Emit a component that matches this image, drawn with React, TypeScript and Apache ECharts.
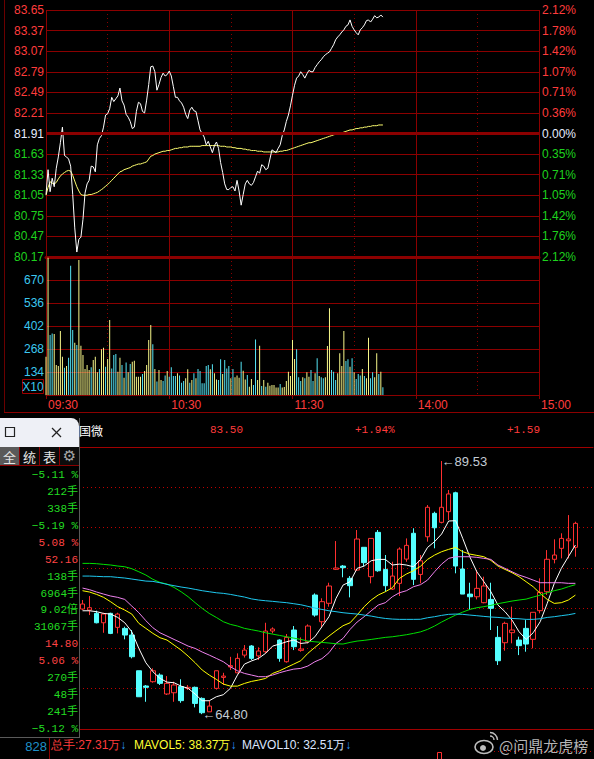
import React, { useEffect, useRef } from 'react';
import * as echarts from 'echarts';

// ---------- Intraday (top) ----------
const priceTicks = ['80.17','80.47','80.75','81.05','81.33','81.63','81.91','82.21','82.49','82.79','83.07','83.37','83.65'];
const pctTicks = ['2.12%','1.76%','1.42%','1.05%','0.71%','0.35%','0.00%','0.36%','0.71%','1.07%','1.42%','1.78%','2.12%'];
const priceMin = 80.17;
const priceMax = 83.65;
const prevClose = 81.91;
const timeTicks = ['09:30','10:30','11:30','14:00','15:00'];
const halfHourTicks = ['10:00','11:00','13:30','14:30'];
const volTicks = [134, 268, 402, 536, 670];
const volMax = 804;

const minutePrice = [
  81.05, 81.40, 81.09, 81.28, 81.16, 81.42, 81.58, 81.78, 82.00, 81.60,
  81.58, 81.55, 81.45, 81.05, 80.58, 80.24, 80.42, 80.45, 80.70, 81.07,
  81.20, 81.25, 81.45, 81.44, 81.37, 81.75, 81.84, 81.88, 82.00, 82.17,
  82.19, 82.26, 82.42, 82.36, 82.40, 82.44, 82.55, 82.37, 82.31, 82.18,
  82.14, 82.08, 81.98, 82.00, 82.22, 82.35, 82.33, 82.22, 82.20, 82.38,
  82.60, 82.85, 82.86, 82.78, 82.52, 82.60, 82.70, 82.76, 82.72, 82.74,
  82.79, 82.72, 82.57, 82.42, 82.42, 82.37, 82.34, 82.28, 82.18, 82.12,
  82.24, 82.28, 82.23, 82.22, 82.09, 81.96, 81.91, 81.86, 81.75, 81.80,
  81.72, 81.64, 81.74, 81.79, 81.70, 81.50, 81.36, 81.20, 81.12, 81.12,
  81.15, 81.16, 81.10, 81.25, 81.10,
  80.90, 81.05, 81.20, 81.25, 81.20, 81.18, 81.22, 81.30, 81.38, 81.35,
  81.47, 81.45, 81.40, 81.42, 81.55, 81.68, 81.66, 81.64, 81.70, 81.75,
  81.88, 81.96, 82.08, 82.17, 82.30, 82.45, 82.59, 82.69, 82.72, 82.78,
  82.74, 82.69, 82.75, 82.80, 82.78, 82.78, 82.84, 82.88, 82.92, 82.95,
  82.99, 83.02, 83.04, 83.06, 83.11, 83.16, 83.23, 83.27, 83.30, 83.34,
  83.37, 83.42, 83.44, 83.51, 83.42, 83.37, 83.33, 83.30, 83.37, 83.40,
  83.44, 83.50, 83.51, 83.48, 83.52, 83.57, 83.54, 83.55, 83.58, 83.55
];

const minuteAvg = [
  81.04, 81.15, 81.23, 81.21, 81.20, 81.22, 81.27, 81.31, 81.34, 81.36,
  81.38, 81.39, 81.38, 81.32, 81.24, 81.16, 81.10, 81.05, 81.04, 81.04,
  81.04, 81.05, 81.05, 81.06, 81.07, 81.08, 81.10, 81.12, 81.14, 81.17,
  81.19, 81.22, 81.25, 81.28, 81.31, 81.34, 81.37, 81.38, 81.40, 81.41,
  81.42, 81.43, 81.45, 81.46, 81.47, 81.48, 81.48, 81.49, 81.50, 81.51,
  81.55, 81.59, 81.60, 81.62, 81.63, 81.64, 81.65, 81.66, 81.66, 81.67,
  81.67, 81.68, 81.69, 81.70, 81.70, 81.71, 81.71, 81.72, 81.72, 81.72,
  81.73, 81.73, 81.73, 81.73, 81.73, 81.73, 81.74, 81.74, 81.74, 81.74,
  81.74, 81.74, 81.74, 81.74, 81.74, 81.73, 81.73, 81.73, 81.72, 81.72,
  81.72, 81.71, 81.71, 81.70, 81.70,
  81.70, 81.69, 81.69, 81.68, 81.68, 81.67, 81.67, 81.67, 81.66, 81.66,
  81.66, 81.65, 81.65, 81.65, 81.65, 81.65, 81.65, 81.65, 81.65, 81.66,
  81.66, 81.67, 81.67, 81.68, 81.69, 81.70, 81.71, 81.72, 81.73, 81.74,
  81.75, 81.76, 81.77, 81.78, 81.78, 81.79, 81.80, 81.81, 81.82, 81.83,
  81.84, 81.85, 81.86, 81.87, 81.88, 81.89, 81.90, 81.91, 81.92, 81.92,
  81.93, 81.94, 81.95, 81.96, 81.96, 81.97, 81.98, 81.98, 81.99, 81.99,
  82.00, 82.00, 82.01, 82.01, 82.02, 82.02, 82.02, 82.03, 82.03, 82.03
];

const minuteVol = [
  223, 800, 350, 359, 355, 175, 169, 373, 223, 159, 169,
  217, 753, 379, 305, 291, 786, 287, 233, 151, 175,
  146, 161, 204, 223, 132, 151, 266, 276, 165, 210,
  437, 155, 233, 239, 136, 217, 175, 101, 190, 132,
  181, 194, 200, 107, 107, 107, 122, 140, 175, 320,
  408, 295, 151, 78, 146, 87, 81, 113, 140, 107,
  161, 111, 111, 126, 113, 72, 81, 97, 150, 72,
  87, 126, 97, 151, 140, 68, 68, 169, 175, 150,
  179, 126, 91, 87, 208, 122, 204, 155, 169, 97,
  151, 103, 113, 101, 194, 142, 91, 117, 48, 93,
  58, 324, 87, 287, 52, 87, 48, 72, 54, 58,
  58, 43, 43, 64, 43, 47, 81, 136, 111,
  320, 210, 266, 103, 81, 103, 97, 132, 107, 146,
  81, 126, 214, 111, 103, 97, 103, 285, 505, 146,
  136, 87, 126, 243, 169, 373, 198, 208, 165, 214,
  132, 93, 122, 113, 151, 111, 97, 334, 97, 132,
  103, 243, 122, 136, 45
];
// Y = up tick (yellow), C = down tick (cyan)
const minuteVolDir = (
  'YYCCYYYYYCY' +
  'CCCYCYYYYY' + 'YCYYYCYYCY' + 'YCCCYYCYCY' + 'CYYYYYCYYY' + 'YCYCYYCCYC' +
  'CCCYCCCYYC' + 'YCYCCCCCCY' + 'CYYCCYCCCY' + 'CYYYCYYCYY' + 'CCYYCYCYYY' +
  'YYYCYYYYY' +
  'YYCCCYCYYC' + 'CYCYCCYYYC' + 'CCYYYYCCYC' + 'YCCCYCYYCC' + 'YYCYC'
).split('');

// ---------- Daily K line (bottom) ----------
const kOpen = [75.07, 74.97, 74.65, 73.73, 74.65, 73.28, 73.18, 72.53, 69.04, 67.55, 67.97, 68.62, 66.77, 66.89, 67.49, 67.33, 67.42, 66.34, 65.03, 67.32, 68.39, 69.41, 68.84, 70.57, 71.46, 70.49, 70.90, 72.92, 72.04, 69.92, 73.02, 71.03, 71.88, 76.44, 73.83, 75.63, 78.95, 79.27, 78.07, 78.88, 81.10, 78.23, 82.56, 78.94, 77.02, 77.58, 79.95, 82.47, 78.45, 82.13, 84.42, 83.54, 84.58, 86.43, 78.98, 76.53, 76.27, 75.69, 76.01, 72.30, 71.78, 72.76, 72.04, 73.18, 72.11, 74.91, 76.76, 79.93, 81.00, 81.74, 81.10];
const kClose = [75.56, 75.20, 73.73, 74.58, 72.69, 74.58, 72.53, 70.41, 66.50, 67.42, 69.04, 67.81, 67.81, 67.65, 66.12, 67.42, 65.85, 64.94, 65.59, 69.04, 68.52, 69.54, 70.25, 71.06, 70.25, 70.97, 72.92, 73.12, 70.25, 72.30, 71.39, 71.16, 73.41, 74.48, 75.79, 77.32, 79.08, 79.11, 77.35, 81.91, 79.60, 81.97, 78.81, 77.35, 78.29, 80.93, 81.29, 77.97, 79.78, 85.01, 83.01, 85.01, 86.31, 79.27, 76.53, 76.27, 77.09, 77.32, 75.14, 70.02, 73.67, 73.02, 71.49, 71.65, 74.75, 76.70, 79.93, 80.35, 81.97, 81.91, 83.44];
const kLow = [74.97, 74.48, 73.67, 72.75, 72.62, 72.69, 72.11, 70.25, 66.50, 66.01, 67.87, 67.65, 66.67, 66.01, 65.91, 67.16, 65.46, 64.80, 65.03, 67.20, 67.65, 69.12, 68.79, 70.33, 70.09, 70.09, 70.74, 72.69, 69.92, 69.83, 71.06, 70.90, 71.72, 74.32, 73.28, 75.30, 78.88, 78.17, 76.21, 78.81, 79.27, 77.58, 78.71, 76.76, 76.93, 76.34, 79.69, 77.41, 77.58, 81.65, 81.00, 83.44, 83.77, 78.56, 76.53, 74.97, 76.01, 75.63, 73.02, 69.60, 71.00, 71.72, 70.57, 70.90, 71.23, 74.65, 76.44, 79.53, 80.02, 80.02, 80.18];
const kHigh = [75.95, 76.34, 74.91, 74.71, 74.71, 74.71, 73.35, 73.02, 69.04, 67.65, 69.28, 68.79, 68.52, 67.97, 68.21, 67.65, 67.49, 66.44, 66.11, 69.04, 68.84, 70.40, 70.74, 71.55, 71.55, 71.33, 73.73, 73.28, 72.11, 72.63, 73.41, 72.30, 73.57, 76.60, 76.12, 77.64, 81.71, 79.37, 78.29, 82.79, 81.10, 81.97, 82.79, 80.35, 79.69, 81.10, 81.97, 82.96, 80.35, 85.23, 84.58, 89.53, 86.70, 86.53, 80.83, 77.64, 78.88, 78.23, 77.64, 73.41, 73.83, 75.30, 72.37, 73.99, 74.75, 78.07, 80.83, 81.88, 82.47, 84.25, 83.60];

const ma5 = [74.90, 74.90, 74.81, 74.64, 74.58, 74.25, 73.73, 72.85, 71.22, 69.82, 68.94, 68.29, 67.93, 67.87, 67.54, 67.32, 66.76, 66.11, 66.11, 66.50, 66.70, 67.32, 68.62, 69.69, 70.00,
  70.25, 70.74, 71.45, 71.65, 71.88, 72.04, 71.71, 71.78, 72.36, 73.34, 74.32, 76.11, 77.41, 77.74, 79.04, 79.27, 79.79, 79.92, 79.92, 79.37, 79.46, 79.37, 79.20, 79.90,
  81.09, 81.65, 82.40, 83.67, 83.70, 81.97, 80.18, 78.71, 77.74, 76.76, 75.46, 74.81, 73.99, 72.85, 72.10, 72.75, 73.83, 75.62, 77.57, 79.04, 80.18, 81.32];
const ma10 = [76.86, 76.73, 76.50, 76.21, 75.78, 75.30, 74.97, 74.58, 73.67, 73.18, 72.69, 72.27, 72.04, 71.55, 71.06, 70.47, 69.82, 69.11, 68.62, 68.20, 67.74, 67.54, 67.54, 67.80, 68.00,
  68.13, 68.29, 68.78, 69.04, 69.37, 69.69, 70.02, 70.74, 71.32, 71.88, 72.43, 72.95, 73.44, 73.73, 74.48, 75.30, 75.95, 76.44, 76.76, 77.15, 78.06, 78.49, 78.81, 79.25,
  79.92, 80.34, 80.67, 80.90, 81.09, 80.67, 80.44, 80.31, 80.18, 79.82, 79.27, 78.94, 78.62, 78.23, 77.74, 77.25, 76.60, 76.01, 75.62, 75.69, 75.95, 76.43];
const ma20 = [77.12, 76.96, 76.73, 76.53, 76.34, 76.21, 76.01, 75.36, 74.71, 73.93, 73.24, 72.75, 72.43, 72.10, 71.78, 71.45, 71.22, 70.87, 70.57, 70.25, 69.92, 69.43, 69.04, 68.78, 68.62,
  68.46, 68.46, 68.62, 68.85, 69.04, 69.20, 69.27, 69.50, 69.92, 70.22, 70.80, 71.71, 72.20, 73.08, 73.80, 74.32, 74.90, 75.46, 75.69, 76.27, 76.66, 76.86, 77.25, 77.45,
  77.90, 78.71, 79.46, 80.02, 80.18, 80.18, 80.18, 80.12, 80.02, 79.92, 79.37, 79.04, 78.71, 78.39, 78.16, 77.90, 77.64, 77.64, 77.64, 77.64, 77.58, 77.58];
const ma60 = [79.53, 79.53, 79.50, 79.43, 79.37, 79.27, 79.20, 79.01, 78.71, 78.39, 77.97, 77.67, 77.51, 77.18, 76.76, 76.27, 75.69, 75.13, 74.64, 74.25, 73.83, 73.57, 73.41, 73.18, 73.05,
  72.92, 72.75, 72.62, 72.49, 72.36, 72.23, 72.10, 71.94, 71.87, 71.81, 71.75, 71.68, 71.65, 71.81, 71.94, 72.01, 72.10, 72.20, 72.30, 72.36, 72.46, 72.56, 72.69, 72.84,
  73.08, 73.41, 73.80, 74.15, 74.48, 74.77, 75.03, 75.20, 75.30, 75.43, 75.59, 75.72, 75.85, 75.95, 76.04, 76.24, 76.43, 76.66, 76.86, 77.02, 77.25, 77.45];
const ma120 = [78.29, 78.29, 78.26, 78.23, 78.23, 78.16, 78.10, 78.00, 77.90, 77.80, 77.77, 77.64, 77.48, 77.35, 77.22, 77.12, 76.99, 76.86, 76.76, 76.66, 76.60, 76.50, 76.37, 76.24, 76.06,
  75.95, 75.88, 75.82, 75.75, 75.69, 75.59, 75.49, 75.33, 75.17, 75.03, 74.90, 74.81, 74.71, 74.64, 74.58, 74.48, 74.38, 74.25, 74.15, 74.09, 74.06, 74.06, 74.06, 74.07,
  74.22, 74.32, 74.45, 74.55, 74.58, 74.55, 74.48, 74.42, 74.35, 74.29, 74.25, 74.19, 74.15, 74.12, 74.06, 74.06, 74.12, 74.25, 74.32, 74.42, 74.51, 74.64];
const kSlots = 73;
const kMin = 63.35;
const kMax = 90.90;

// ---------- Side panel / header texts ----------
const panelTexts = ['−5.11 %', '212手', '338手', '−5.19 %', '5.08 %', '52.16', '138手', '6964手', '9.02倍', '31067手', '14.80', '5.06 %', '270手', '48手', '241手', '−5.12 %'];
const panelUp = [0, 0, 0, 0, 1, 1, 0, 0, 0, 0, 1, 1, 0, 0, 0, 0];
const headerName = '国微';
const headerPrice = '83.50';
const headerPct = '+1.94%';
const headerChg = '+1.59';
const statusTotal = '总手:27.31万';
const statusMa5 = 'MAVOL5: 38.37万';
const statusMa10 = 'MAVOL10: 32.51万';

const GRID = '#8b0000';
const RED = '#ff3c3c';
const GREEN = '#1ed21e';
const SANS = "'Liberation Sans', Arial, sans-serif";
const MONO = "'Liberation Mono', 'Noto Sans CJK SC', monospace";
const CJK = "'Noto Sans CJK SC', sans-serif";

function buildMinutes(): string[] {
  const out: string[] = [];
  for (let i = 0; i <= 240; i++) {
    const t = i <= 120 ? 9 * 60 + 30 + i : 13 * 60 + (i - 120);
    const h = Math.floor(t / 60);
    const m = t % 60;
    out.push(String(h).padStart(2, '0') + ':' + String(m).padStart(2, '0'));
  }
  return out;
}

function txt(text: string, x: number, y: number, fill: string, font: string, align = 'left', extra: any = {}) {
  return {
    type: 'text', x, y, z: 100,
    style: { text, fill, font, textAlign: align, textVerticalAlign: 'middle', verticalAlign: 'middle', ...extra },
  };
}
function ln(x1: number, y1: number, x2: number, y2: number, stroke: string, lineWidth = 1, lineDash?: number[]) {
  return { type: 'line', z: 90, shape: { x1, y1, x2, y2 }, style: { stroke, lineWidth, lineDash } };
}
function statusText(label: string, x: number, color: string) {
  return {
    type: 'text', x, y: 745, z: 100,
    style: {
      text: `{t|${label}}{a|↓}`, textVerticalAlign: 'middle', verticalAlign: 'middle',
      rich: { t: { fill: color, font: `12px ${SANS}` }, a: { fill: '#2f9bff', font: `12px ${SANS}` } },
    },
  };
}

export default function App() {
  const ref = useRef<HTMLDivElement>(null);
  useEffect(() => {
    document.body.style.margin = '0';
    document.body.style.background = '#000';
    const chart = echarts.init(ref.current as HTMLDivElement, null, { renderer: 'svg' });
    const minutes = buildMinutes();
    const days = Array.from({ length: kSlots }, (_, i) => 'D' + (i + 1));
    const candles = kOpen.map((o, i) => [o, kClose[i], kLow[i], kHigh[i]]);
    let hiIdx = 0, loIdx = 0;
    kHigh.forEach((v, i) => { if (v > kHigh[hiIdx]) hiIdx = i; });
    kLow.forEach((v, i) => { if (v < kLow[loIdx]) loIdx = i; });

    const priceColor = (v: any) => {
      const n = Number(v);
      return n > 6 ? RED : n === 6 ? '#e6eeff' : GREEN;
    };

    const graphic: any[] = [
      ln(4.5, 0, 4.5, 413, '#6a0000'),
      ln(4, 412.5, 594, 412.5, GRID),
      // X10 box
      { type: 'rect', z: 90, shape: { x: 22.5, y: 379.5, width: 21, height: 14 }, style: { fill: 'none', stroke: '#a00000', lineWidth: 1 } },
      txt('X10', 33, 387, '#3cc8f0', `12px ${SANS}`, 'center'),
      // header row
      txt(headerName, 103, 430, '#ffffff', `12px ${CJK}`, 'right'),
      txt(headerPrice, 210, 430, RED, `11px ${MONO}`),
      txt(headerPct, 355, 430, RED, `11px ${MONO}`),
      txt(headerChg, 507, 430, RED, `11px ${MONO}`),
      // popup window
      { type: 'rect', z: 95, shape: { x: 0, y: 418, width: 79, height: 29, r: [0, 8, 0, 0] }, style: { fill: '#eef0f6' } },
      { type: 'rect', z: 96, shape: { x: 5.5, y: 427.5, width: 9, height: 9 }, style: { fill: 'none', stroke: '#222', lineWidth: 1.2 } },
      { ...ln(52, 428, 61, 437, '#222', 1.2), z: 96 },
      { ...ln(61, 428, 52, 437, '#222', 1.2), z: 96 },
      { type: 'rect', z: 95, shape: { x: 0, y: 447, width: 79, height: 18 }, style: { fill: '#0c0c0c' } },
      { type: 'rect', z: 95, shape: { x: 0, y: 447, width: 19, height: 18 }, style: { fill: '#5a5a5a' } },
      { ...ln(19.5, 447, 19.5, 465, GRID), z: 96 },
      { ...ln(39.5, 447, 39.5, 465, GRID), z: 96 },
      { ...ln(59.5, 447, 59.5, 465, GRID), z: 96 },
      { ...ln(0, 465.5, 79, 465.5, GRID), z: 96 },
      txt('全', 9.5, 456, '#e6e6e6', `13px ${CJK}`, 'center'),
      txt('统', 29.5, 456, '#e6e6e6', `13px ${CJK}`, 'center'),
      txt('表', 49.5, 456, '#e6e6e6', `13px ${CJK}`, 'center'),
      txt('⚙', 69.5, 456, '#a8a8a8', `15px 'DejaVu Sans', sans-serif`, 'center'),
      { ...ln(79.5, 418, 79.5, 738, '#5a5a5a'), z: 96 },
      { ...ln(0, 737.5, 79.5, 737.5, '#5a5a5a'), z: 96 },
      // bottom status row
      txt('828', 47, 746, '#1e90c8', `13px ${SANS}`, 'right'),
      ln(49.5, 738, 49.5, 759, GRID),
      statusText(statusTotal, 51, RED),
      statusText(statusMa5, 134, '#ffff33'),
      statusText(statusMa10, 242, '#dde6ff'),
      // fragments of the next panel
      ln(490, 751.5, 594, 751.5, '#b00000', 1, [1, 3]),
      { type: 'rect', z: 90, shape: { x: 437.5, y: 752.5, width: 4, height: 7 }, style: { fill: 'none', stroke: '#ff3030', lineWidth: 1 } },
      // watermark
      { type: 'ellipse', z: 100, shape: { cx: 484, cy: 747, rx: 9, ry: 6.5 }, style: { fill: 'none', stroke: '#bdbdbd', lineWidth: 1.6 } },
      { type: 'circle', z: 100, shape: { cx: 483, cy: 748, r: 3 }, style: { fill: '#bdbdbd' } },
      { type: 'arc', z: 100, shape: { cx: 490, cy: 740, r: 4, startAngle: -Math.PI / 2, endAngle: 0 }, style: { fill: 'none', stroke: '#bdbdbd', lineWidth: 1.4 } },
      { type: 'arc', z: 100, shape: { cx: 490, cy: 740, r: 7.5, startAngle: -Math.PI / 2, endAngle: 0 }, style: { fill: 'none', stroke: '#bdbdbd', lineWidth: 1.4 } },
      txt('@问鼎龙虎榜', 499, 745, 'rgba(205,205,205,0.9)', `15px ${CJK}`),
    ];
    panelTexts.forEach((t, i) => {
      graphic.push({ ...txt(t, 78, 475 + i * 16.93, panelUp[i] ? '#ff4444' : '#22dd22', `11px ${MONO}`, 'right'), z: 101 });
    });

    const hiddenCat = { axisLine: { show: false }, axisTick: { show: false }, axisLabel: { show: false } };

    const option: any = {
      animation: false,
      backgroundColor: '#000',
      grid: [
        { left: 46, top: 10, width: 493, height: 247 },
        { left: 46, top: 257, width: 493, height: 138 },
        { left: 79, top: 447, width: 514, height: 282 },
      ],
      xAxis: [
        {
          type: 'category', gridIndex: 0, data: minutes, boundaryGap: false,
          axisLine: { show: true, lineStyle: { color: GRID, width: 3 } }, axisTick: { show: false }, axisLabel: { show: false },
          splitLine: { show: true, interval: (i: number, v: string) => timeTicks.includes(v), lineStyle: { color: GRID, width: 1 } },
        },
        {
          type: 'category', gridIndex: 0, data: minutes, boundaryGap: false, ...hiddenCat,
          splitLine: { show: true, interval: (i: number, v: string) => halfHourTicks.includes(v), lineStyle: { color: GRID, width: 1, type: [1, 3] } },
        },
        {
          type: 'category', gridIndex: 1, data: minutes, boundaryGap: false,
          axisLine: { show: true, lineStyle: { color: GRID } },
          axisTick: { show: true, length: 4, interval: (i: number, v: string) => timeTicks.includes(v), lineStyle: { color: GRID } },
          axisLabel: {
            show: true, interval: (i: number, v: string) => timeTicks.includes(v), color: RED, fontSize: 12,
            fontFamily: SANS, align: 'left', margin: 4, padding: [0, 0, 0, 2],
          },
          splitLine: { show: true, interval: (i: number, v: string) => timeTicks.includes(v), lineStyle: { color: GRID, width: 1 } },
        },
        {
          type: 'category', gridIndex: 1, data: minutes, boundaryGap: false, ...hiddenCat,
          splitLine: { show: true, interval: (i: number, v: string) => halfHourTicks.includes(v), lineStyle: { color: GRID, width: 1, type: [1, 3] } },
        },
        {
          type: 'category', gridIndex: 2, data: days, boundaryGap: true,
          axisLine: { show: true, lineStyle: { color: '#a00000' } }, axisTick: { show: false }, axisLabel: { show: false }, splitLine: { show: false },
        },
        {
          type: 'category', gridIndex: 2, data: days, boundaryGap: true, position: 'top',
          axisLine: { show: true, lineStyle: { color: '#a00000' } }, axisTick: { show: false }, axisLabel: { show: false }, splitLine: { show: false },
        },
      ],
      yAxis: [
        { type: 'value', gridIndex: 0, min: priceMin, max: priceMax, show: false },
        {
          type: 'value', gridIndex: 0, min: 0, max: 12, interval: 1, position: 'left',
          axisLine: { show: false }, axisTick: { show: false },
          axisLabel: { formatter: (v: number) => priceTicks[v] ?? '', color: priceColor, fontSize: 12, fontFamily: SANS, margin: 2 },
          splitLine: { show: true, lineStyle: { color: GRID, width: 1 } },
        },
        {
          type: 'value', gridIndex: 0, min: 0, max: 12, interval: 1, position: 'right',
          axisLine: { show: false }, axisTick: { show: false },
          axisLabel: { formatter: (v: number) => pctTicks[v] ?? '', color: priceColor, fontSize: 12, fontFamily: SANS, margin: 3 },
          splitLine: { show: false },
        },
        {
          type: 'value', gridIndex: 1, min: 0, max: volMax, interval: 134, position: 'left',
          axisLine: { show: false }, axisTick: { show: false },
          axisLabel: { formatter: (v: number) => (volTicks.includes(v) ? String(v) : ''), color: '#3cc8f0', fontSize: 12, fontFamily: SANS, margin: 2 },
          splitLine: { show: true, lineStyle: { color: GRID, width: 1 } },
        },
        { type: 'value', gridIndex: 2, min: kMin, max: kMax, show: false },
        {
          type: 'value', gridIndex: 2, min: 0, max: 7, interval: 1, position: 'right',
          axisLine: { show: false }, axisTick: { show: false }, axisLabel: { show: false },
          splitLine: { show: true, lineStyle: { color: '#c00000', width: 1, type: [1, 3] } },
        },
      ],
      series: [
        {
          type: 'line', name: '均价', xAxisIndex: 0, yAxisIndex: 0, data: minuteAvg, symbol: 'none',
          lineStyle: { color: '#ffff70', width: 1 }, z: 3,
          markLine: {
            silent: true, symbol: ['none', 'none'], label: { show: false },
            lineStyle: { color: GRID, width: 3, type: 'solid' }, data: [{ yAxis: prevClose }],
          },
        },
        {
          type: 'line', name: '价格', xAxisIndex: 0, yAxisIndex: 0, data: minutePrice, symbol: 'none',
          lineStyle: { color: '#ffffff', width: 1 }, z: 4,
        },
        {
          type: 'bar', name: '成交量', xAxisIndex: 2, yAxisIndex: 3, barWidth: 1,
          data: minuteVol.map((v, i) => ({ value: v, itemStyle: { color: minuteVolDir[i] === 'Y' ? '#f7f78a' : '#55e5f5' } })),
        },
        {
          type: 'candlestick', name: 'K', xAxisIndex: 4, yAxisIndex: 4, data: candles, barWidth: 5, z: 5,
          itemStyle: { color: '#000', color0: '#55ffff', borderColor: '#ff3030', borderColor0: '#55ffff', borderWidth: 1 },
          markPoint: {
            symbol: 'circle', symbolSize: 0, silent: true,
            label: { show: true, position: 'right', distance: 0, color: '#c4ccd4', fontSize: 13, fontFamily: SANS, formatter: (p: any) => '←' + p.value },
            data: [
              { coord: [hiIdx, kHigh[hiIdx]], value: kHigh[hiIdx].toFixed(2) },
              { coord: [loIdx, kLow[loIdx]], value: kLow[loIdx].toFixed(2) },
            ],
          },
        },
        { type: 'line', name: 'MA5', xAxisIndex: 4, yAxisIndex: 4, data: ma5, symbol: 'none', lineStyle: { color: '#ffffff', width: 1 }, z: 6 },
        { type: 'line', name: 'MA10', xAxisIndex: 4, yAxisIndex: 4, data: ma10, symbol: 'none', lineStyle: { color: '#ffff00', width: 1 }, z: 6 },
        { type: 'line', name: 'MA20', xAxisIndex: 4, yAxisIndex: 4, data: ma20, symbol: 'none', lineStyle: { color: '#ee82ee', width: 1 }, z: 6 },
        { type: 'line', name: 'MA60', xAxisIndex: 4, yAxisIndex: 4, data: ma60, symbol: 'none', lineStyle: { color: '#00e000', width: 1 }, z: 6 },
        { type: 'line', name: 'MA120', xAxisIndex: 4, yAxisIndex: 4, data: ma120, symbol: 'none', lineStyle: { color: '#1ec8ee', width: 1 }, z: 6 },
      ],
      graphic,
    };
    chart.setOption(option);
    return () => chart.dispose();
  }, []);
  return (
    <div
      ref={ref}
      style={{ position: 'fixed', left: 0, top: 0, width: 594, height: 759, background: '#000' }}
    />
  );
}
